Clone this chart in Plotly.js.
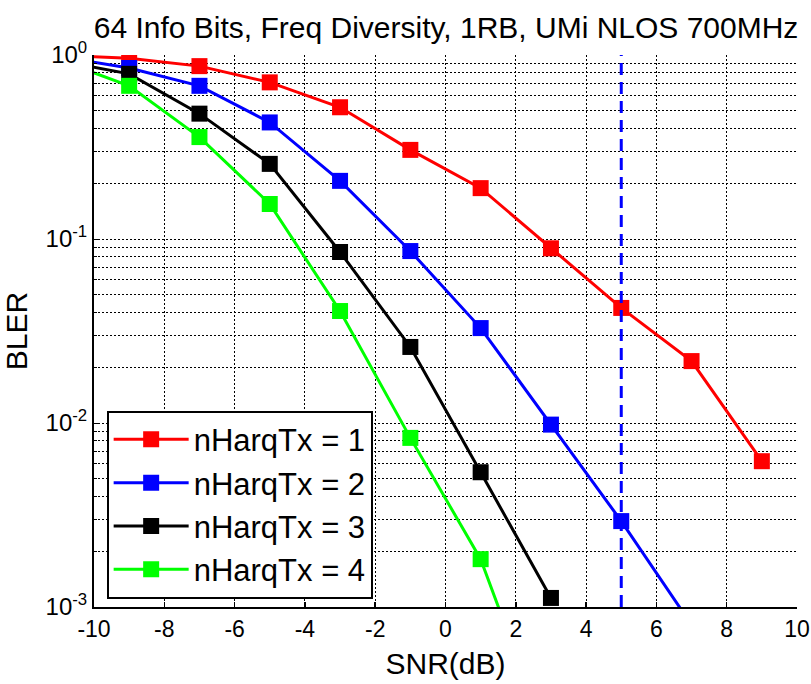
<!DOCTYPE html>
<html>
<head>
<meta charset="utf-8">
<script src="https://cdn.plot.ly/plotly-3.0.1.min.js"></script>
<style>html,body{margin:0;padding:0;background:#fff}#chart{width:811px;height:684px}</style>
</head>
<body>
<div id="chart"></div>
<script>
const snr1 = [-11, -9, -7, -5, -3, -1, 1, 3, 5, 7, 9];
const bler1 = [1.0, 0.96, 0.87, 0.71, 0.52, 0.305, 0.189, 0.089, 0.0422, 0.0217, 0.0062];
const snr2 = [-11, -9, -7, -5, -3, -1, 1, 3, 5, 7];
const bler2 = [0.98, 0.85, 0.68, 0.43, 0.207, 0.086, 0.0328, 0.0098, 0.00293, 0.0008];
const snr3 = [-11, -9, -7, -5, -3, -1, 1, 3];
const bler3 = [0.93, 0.79, 0.48, 0.256, 0.085, 0.0259, 0.0054, 0.00112];
const snr4 = [-11, -9, -7, -5, -3, -1, 1, 3];
const bler4 = [0.94, 0.68, 0.358, 0.155, 0.0406, 0.0083, 0.00182, 0.00017];
const seriesNames = ['nHarqTx = 1', 'nHarqTx = 2', 'nHarqTx = 3', 'nHarqTx = 4'];
const thresholdX = [5, 5];
const thresholdY = [0.001, 1];
const xTickVals = [-10, -8, -6, -4, -2, 0, 2, 4, 6, 8, 10];
const xTickText = ['-10', '-8', '-6', '-4', '-2', '0', '2', '4', '6', '8', '10'];
const yTickVals = [0.001, 0.01, 0.1, 1];
const yTickText = ['10<sup>-3</sup>', '10<sup>-2</sup>', '10<sup>-1</sup>', '10<sup>0</sup>'];

const colors = ['#ff0000', '#0000ff', '#000000', '#00ff00'];
const xs = [snr1, snr2, snr3, snr4];
const ys = [bler1, bler2, bler3, bler4];
const FONT = 'Liberation Sans, Arial, sans-serif';

const traces = xs.map((x, i) => ({
  x: x, y: ys[i], name: seriesNames[i], type: 'scatter', mode: 'lines+markers',
  line: {color: colors[i], width: 3},
  marker: {symbol: 'square', size: 16, color: colors[i]},
  cliponaxis: true
}));
traces.push({
  x: thresholdX, y: thresholdY, type: 'scatter', mode: 'lines', showlegend: false,
  line: {color: '#0000ff', width: 3, dash: '12px,7px'}, hoverinfo: 'skip'
});

const gridDash = '2px,2px';
const layout = {
  width: 811, height: 684,
  margin: {l: 94, r: 14, t: 55, b: 77},
  paper_bgcolor: '#fff', plot_bgcolor: '#fff',
  font: {family: FONT, color: '#000'},
  title: {text: '64 Info Bits, Freq Diversity, 1RB, UMi NLOS 700MHz', font: {size: 30, family: FONT}, x: 0.55, xanchor: 'center', y: 0.96, yanchor: 'middle'},
  showlegend: true,
  legend: {x: 0.018, y: 0.015, xanchor: 'left', yanchor: 'bottom', bgcolor: '#fff', bordercolor: '#000', borderwidth: 2, font: {size: 31, family: FONT}, tracegroupgap: 0, itemwidth: 75},
  xaxis: {
    range: [-10, 10], tickvals: xTickVals, ticktext: xTickText,
    showline: true, linecolor: '#000', linewidth: 2, mirror: false,
    ticks: 'inside', ticklen: 5, tickcolor: '#000', tickwidth: 1.5,
    showgrid: true, gridcolor: '#000', gridwidth: 1, griddash: gridDash,
    zeroline: false, tickfont: {size: 23, family: FONT},
    title: {text: 'SNR(dB)', font: {size: 30, family: FONT}, standoff: 12}
  },
  yaxis: {
    type: 'log', range: [-3, 0], tickvals: yTickVals, ticktext: yTickText,
    showline: true, linecolor: '#000', linewidth: 2, mirror: false,
    ticks: 'inside', ticklen: 5, tickcolor: '#000',
    showgrid: true, gridcolor: '#000', gridwidth: 1, griddash: gridDash,
    minor: {dtick: 'D1', showgrid: true, gridcolor: '#000', gridwidth: 1, griddash: gridDash, ticks: 'inside', ticklen: 3, tickcolor: '#000'},
    zeroline: false, tickfont: {size: 24, family: FONT},
    title: {text: 'BLER', font: {size: 30, family: FONT}, standoff: 12}
  }
};
Plotly.newPlot('chart', traces, layout, {displayModeBar: false, staticPlot: true});
</script>
</body>
</html>
